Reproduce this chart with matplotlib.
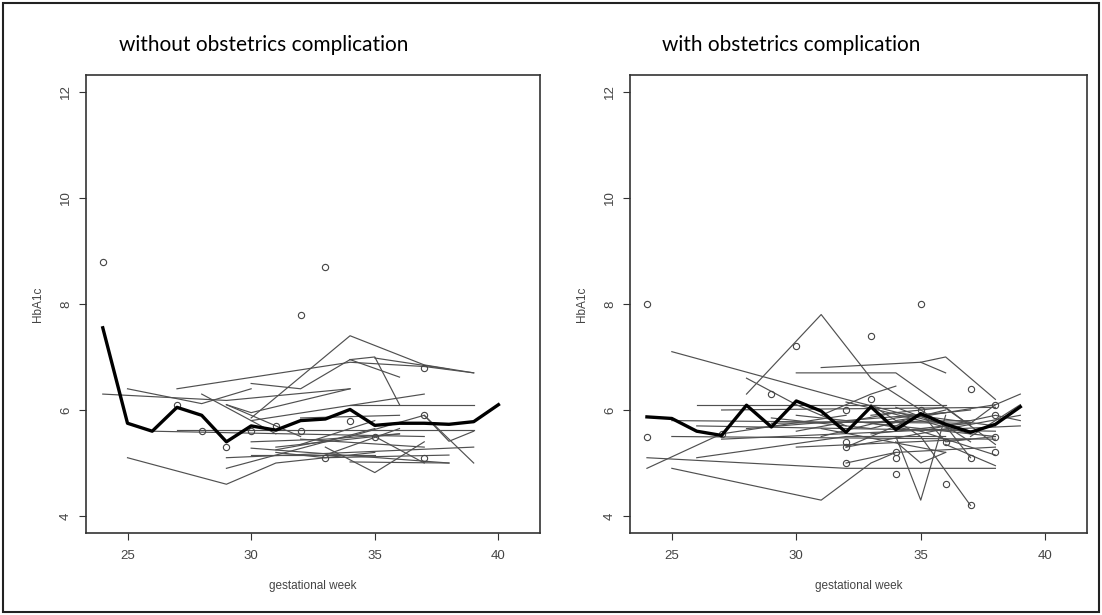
import matplotlib as mpl
import matplotlib.pyplot as plt
from matplotlib.patches import Rectangle

mpl.use('Agg')

# ---- data: without obstetrics complication ----
left_weeks = [
    [24, 29, 34], [25, 28, 30], [27, 34, 37, 39], [30, 34, 37, 39],
    [34, 35, 36], [35, 38], [34, 36], [30, 32, 34], [34, 39], [30, 37],
    [34, 37, 38, 39], [37, 39], [26, 37], [27, 39], [25, 29, 31, 35],
    [29, 35], [29, 39], [30, 35], [33, 35, 37], [35, 37], [30, 38],
    [34, 38], [31, 36], [29, 32], [28, 31], [32, 35], [31, 34],
    [30, 33, 36], [32, 36], [33, 36], [29, 30, 34], [31, 33, 38], [32, 37],
]
left_hba1c = [
    [6.30, 6.18, 6.40], [6.40, 6.12, 6.40], [6.40, 6.90, 6.82, 6.70], [5.85, 7.40, 6.85, 6.70],
    [6.95, 7.00, 6.10], [6.98, 6.77], [6.95, 6.62], [6.50, 6.40, 6.95], [6.10, 6.10], [5.80, 6.30],
    [5.50, 5.90, 5.41, 5.60], [5.90, 5.00], [5.60, 5.50], [5.62, 5.62], [5.10, 4.60, 5.00, 5.20],
    [4.90, 5.65], [5.10, 5.30], [5.15, 5.15], [5.30, 4.82, 5.40], [5.50, 5.00], [5.28, 5.00],
    [5.02, 5.00], [5.30, 5.55], [6.10, 5.50], [6.30, 5.55], [5.35, 5.80], [5.25, 5.50],
    [5.40, 5.45, 5.55], [5.85, 5.90], [5.15, 5.65], [6.10, 5.95, 6.40], [5.20, 5.10, 5.15], [5.45, 5.30],
]
left_pt_weeks = [24, 32, 33, 27, 28, 29, 30, 31, 32, 33, 34, 35, 37, 37, 37]
left_pt_hba1c = [8.8, 7.8, 8.7, 6.1, 5.6, 5.3, 5.6, 5.7, 5.6, 5.1, 5.8, 5.5, 5.9, 5.1, 6.8]
left_mean_weeks = list(range(24, 41))
left_mean_hba1c = [7.55, 5.75, 5.60, 6.05, 5.90, 5.40, 5.70, 5.62, 5.80, 5.83,
                   6.01, 5.71, 5.75, 5.75, 5.73, 5.78, 6.10]

# ---- data: with obstetrics complication ----
right_weeks = [
    [25, 32, 37], [28, 31, 33, 35, 37], [28, 30, 32], [34, 35, 36], [34, 35, 36],
    [33, 35, 37], [24, 27, 32], [25, 31, 33, 34], [24, 32, 38], [26, 32, 36],
    [31, 35, 36, 38], [35, 36], [30, 34, 37], [26, 36], [27, 38], [34, 38, 39],
    [35, 38, 39], [25, 38], [25, 37], [27, 39], [26, 38], [29, 37], [30, 38],
    [28, 36], [32, 39], [32, 34, 38], [36, 38], [33, 35, 38], [34, 36, 37],
    [32, 35], [31, 33, 34], [33, 37, 38], [35, 36, 38], [37, 39], [30, 37], [31, 36],
    [29, 33, 36], [30, 34, 38], [32, 35, 37], [33, 36, 38], [31, 34, 37],
]
right_hba1c = [
    [7.10, 6.20, 5.60], [6.30, 7.80, 6.60, 6.00, 5.40], [6.60, 6.10, 5.70], [5.50, 4.30, 5.90], [5.40, 5.00, 5.20],
    [6.10, 5.50, 4.20], [4.90, 5.55, 5.90], [4.90, 4.30, 5.00, 5.20], [5.10, 4.90, 4.90], [5.10, 5.50, 5.50],
    [6.80, 6.90, 7.00, 6.20], [6.90, 6.70], [6.70, 6.70, 5.70], [6.10, 6.10], [6.00, 6.05], [5.80, 6.10, 6.30],
    [5.60, 5.90, 5.80], [5.50, 5.45], [5.80, 5.75], [5.45, 5.70], [5.70, 5.60], [5.75, 5.80], [5.90, 5.50],
    [5.65, 5.95], [5.30, 5.90], [5.00, 5.20, 5.30], [5.35, 4.95], [5.75, 5.60, 5.15], [6.05, 5.70, 5.10],
    [5.30, 5.90], [5.90, 6.30, 6.45], [5.55, 5.75, 6.10], [5.95, 5.40, 5.50], [5.50, 6.10], [5.30, 5.45], [5.65, 5.20],
    [5.85, 5.65, 6.00], [5.60, 5.95, 5.70], [6.15, 5.80, 5.55], [5.90, 6.05, 5.35], [5.50, 5.85, 6.00],
]
right_pt_weeks = [24, 30, 33, 35, 24, 27, 29, 32, 32, 32, 32, 33, 34, 34, 34,
                  35, 36, 36, 37, 37, 37, 38, 38, 38, 38]
right_pt_hba1c = [8.0, 7.2, 7.4, 8.0, 5.5, 5.55, 6.3, 6.0, 5.4, 5.3, 5.0, 6.2, 5.2, 5.1, 4.8,
                  6.0, 5.4, 4.6, 6.4, 5.1, 4.2, 6.1, 5.9, 5.5, 5.2]
right_mean_weeks = list(range(24, 40))
right_mean_hba1c = [5.87, 5.84, 5.60, 5.52, 6.09, 5.68, 6.17, 5.98, 5.58, 6.06,
                    5.63, 5.93, 5.73, 5.58, 5.73, 6.06]


def panel(ax, weeks, vals, pw, pv, mw, mv):
    for w, v in zip(weeks, vals):
        ax.plot(w, v, color='#505050', lw=0.85)
    ax.plot(pw, pv, 'o', mfc='none', mec='#444444', ms=4.5, mew=0.8)
    ax.plot(mw, mv, color='black', lw=2.4)
    ax.set_xlim(23.32, 41.68)
    ax.set_ylim(3.68, 12.32)
    ax.set_xticks([25, 30, 35, 40])
    ax.set_yticks([4, 6, 8, 10, 12])
    ax.tick_params(direction='out', length=5, width=0.8, color='#333333',
                   labelcolor='#444444', labelsize=9.5)
    ax.tick_params(axis='x', pad=7)
    ax.tick_params(axis='y', pad=5, labelrotation=90)
    for lbl in ax.get_yticklabels():
        lbl.set_va('center')
    for s in ax.spines.values():
        s.set_linewidth(1.2)
        s.set_color('#333333')
    ax.set_xlabel('gestational week', fontsize=8.5, color='#444444', va='center')
    ax.set_ylabel('HbA1c', fontsize=8.5, color='#444444', va='center')
    ax.xaxis.set_label_coords(0.5, -0.116)
    ax.yaxis.set_label_coords(-0.106, 0.5)


plt.rcParams['font.family'] = ['Liberation Sans', 'DejaVu Sans']
fig = plt.figure(figsize=(11.02, 6.15), dpi=100)
ax1 = fig.add_axes([0.078, 0.1333, 0.412, 0.745])
ax2 = fig.add_axes([0.5717, 0.1333, 0.4147, 0.745])

panel(ax1, left_weeks, left_hba1c, left_pt_weeks, left_pt_hba1c,
      left_mean_weeks, left_mean_hba1c)
panel(ax2, right_weeks, right_hba1c, right_pt_weeks, right_pt_hba1c,
      right_mean_weeks, right_mean_hba1c)

fig.text(0.239, 0.927, 'without obstetrics complication', fontsize=15,
         family='Lato', ha='center', va='center')
fig.text(0.718, 0.927, 'with obstetrics complication', fontsize=15,
         family='Lato', ha='center', va='center')

fig.add_artist(Rectangle((0.003, 0.005), 0.994, 0.99, transform=fig.transFigure,
                         fill=False, lw=1.5, ec='#222222'))

fig.savefig('out.png', dpi=100)
plt.close()
